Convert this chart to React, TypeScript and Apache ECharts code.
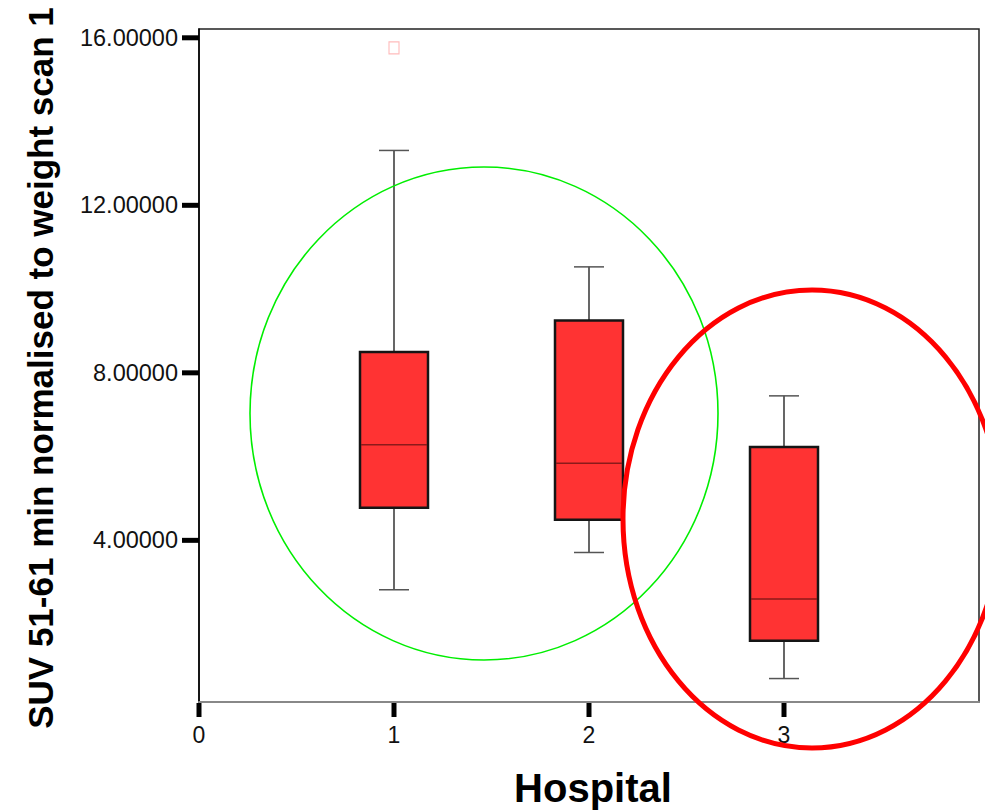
import React, { useEffect, useRef } from "react";
import * as echarts from "echarts";

const hospitals = [1, 2, 3];
// [min whisker, Q1, median, Q3, max whisker]
const boxStats = [
  [2.82, 4.78, 6.28, 8.5, 13.31],
  [3.71, 4.49, 5.84, 9.25, 10.53],
  [0.7, 1.6, 2.6, 6.23, 7.45],
];
const outliers = [[1, 15.76]];
const yTicks = [4, 8, 12, 16];
const xTicks = [0, 1, 2, 3];
const yTitle = "SUV 51-61 min normalised to weight scan 1";
const xTitle = "Hospital";

const FONT = "'Liberation Sans', Arial, Helvetica, sans-serif";
const Y_MIN = 0.14;
const Y_MAX = 16.21;

export default function App() {
  const ref = useRef<HTMLDivElement>(null);
  useEffect(() => {
    if (!ref.current) return;
    const chart = echarts.init(ref.current, null, { renderer: "svg" });
    const boxData = hospitals.map((h, i) => [h, ...boxStats[i]]);
    const staticGraphics: any[] = [
      {
        type: "ellipse",
        shape: { cx: 484, cy: 413.5, rx: 234, ry: 246.5 },
        style: { fill: "none", stroke: "#00ee00", lineWidth: 1.6 },
        z: 10,
      },
      {
        type: "ellipse",
        shape: { cx: 812, cy: 519, rx: 189, ry: 229 },
        style: { fill: "none", stroke: "#ff0000", lineWidth: 5 },
        z: 11,
      },
      {
        type: "text",
        x: 40,
        y: 368,
        rotation: Math.PI / 2,
        style: {
          text: yTitle,
          fontSize: 35,
          fontWeight: "bold",
          fontFamily: FONT,
          fill: "#000",
          textAlign: "center",
          textVerticalAlign: "middle",
        },
        z: 10,
      },
      {
        type: "text",
        x: 593,
        y: 788,
        style: {
          text: xTitle,
          fontSize: 40,
          fontWeight: "bold",
          fontFamily: FONT,
          fill: "#000",
          textAlign: "center",
          textVerticalAlign: "middle",
        },
        z: 10,
      },
    ];
    chart.setOption({
      animation: false,
      backgroundColor: "#ffffff",
      grid: {
        left: 199,
        top: 29,
        right: 6,
        bottom: 108,
        show: true,
        borderColor: "#222",
        borderWidth: 1.5,
        backgroundColor: "transparent",
      },
      xAxis: {
        type: "value",
        min: 0,
        max: 4,
        splitLine: { show: false },
        axisLine: { show: true, lineStyle: { color: "#888", width: 2 } },
        axisTick: { show: false },
        axisLabel: {
          customValues: xTicks,
          margin: 21,
          fontSize: 23,
          color: "#111",
          fontFamily: FONT,
          formatter: (v: number) => String(v),
        },
      },
      yAxis: {
        type: "value",
        min: Y_MIN,
        max: Y_MAX,
        splitLine: { show: false },
        axisLine: { show: true, lineStyle: { color: "#000", width: 1.5 } },
        axisTick: { show: false },
        axisLabel: {
          customValues: yTicks,
          margin: 21,
          fontSize: 23.5,
          color: "#111",
          fontFamily: FONT,
          formatter: (v: number) => v.toFixed(5),
        },
      },
      series: [
        {
          type: "custom",
          data: boxData,
          encode: { x: 0, y: [1, 2, 3, 4, 5] },
          renderItem: (params: any, api: any) => {
            const x = api.value(0);
            const pMin = api.coord([x, api.value(1)]);
            const pQ1 = api.coord([x, api.value(2)]);
            const pMed = api.coord([x, api.value(3)]);
            const pQ3 = api.coord([x, api.value(4)]);
            const pMax = api.coord([x, api.value(5)]);
            const cx = pMin[0];
            const bw = 68;
            const cw = 30;
            return {
              type: "group",
              children: [
                {
                  type: "line",
                  shape: { x1: cx, y1: pMax[1], x2: cx, y2: pQ3[1] },
                  style: { stroke: "#000", lineWidth: 1.2 },
                },
                {
                  type: "line",
                  shape: { x1: cx, y1: pQ1[1], x2: cx, y2: pMin[1] },
                  style: { stroke: "#000", lineWidth: 1.2 },
                },
                {
                  type: "line",
                  shape: { x1: cx - cw / 2, y1: pMax[1], x2: cx + cw / 2, y2: pMax[1] },
                  style: { stroke: "#555", lineWidth: 1.5 },
                },
                {
                  type: "line",
                  shape: { x1: cx - cw / 2, y1: pMin[1], x2: cx + cw / 2, y2: pMin[1] },
                  style: { stroke: "#555", lineWidth: 1.5 },
                },
                {
                  type: "rect",
                  shape: { x: cx - bw / 2, y: pQ3[1], width: bw, height: pQ1[1] - pQ3[1] },
                  style: { fill: "#ff3333", stroke: "#151515", lineWidth: 2.5 },
                },
                {
                  type: "line",
                  shape: { x1: cx - bw / 2 + 1, y1: pMed[1], x2: cx + bw / 2 - 1, y2: pMed[1] },
                  style: { stroke: "#8b1a1a", lineWidth: 1.5 },
                },
              ],
            };
          },
          z: 3,
        },
        {
          type: "scatter",
          data: outliers,
          symbol: "rect",
          symbolSize: [10, 12],
          itemStyle: { color: "rgba(0,0,0,0)", borderColor: "#ffaaaa", borderWidth: 1.2 },
          z: 4,
        },
      ],
      graphic: staticGraphics,
    });

    // thick axis tick marks placed through the chart's own scales
    const tickGraphics: any[] = [];
    yTicks.forEach((v) => {
      const p = chart.convertToPixel({ gridIndex: 0 }, [0, v]) as number[];
      tickGraphics.push({
        type: "rect",
        shape: { x: p[0] - 17, y: p[1] - 2.5, width: 17, height: 5 },
        style: { fill: "#000" },
        z: 12,
      });
    });
    xTicks.forEach((v) => {
      const p = chart.convertToPixel({ gridIndex: 0 }, [v, Y_MIN]) as number[];
      tickGraphics.push({
        type: "rect",
        shape: { x: p[0] - 2.5, y: p[1] + 1, width: 5, height: 14 },
        style: { fill: "#000" },
        z: 12,
      });
    });
    chart.setOption({ graphic: [...staticGraphics, ...tickGraphics] });

    return () => chart.dispose();
  }, []);
  return (
    <div
      ref={ref}
      style={{ position: "fixed", left: 0, top: 0, width: 985, height: 810, background: "#fff" }}
    />
  );
}
